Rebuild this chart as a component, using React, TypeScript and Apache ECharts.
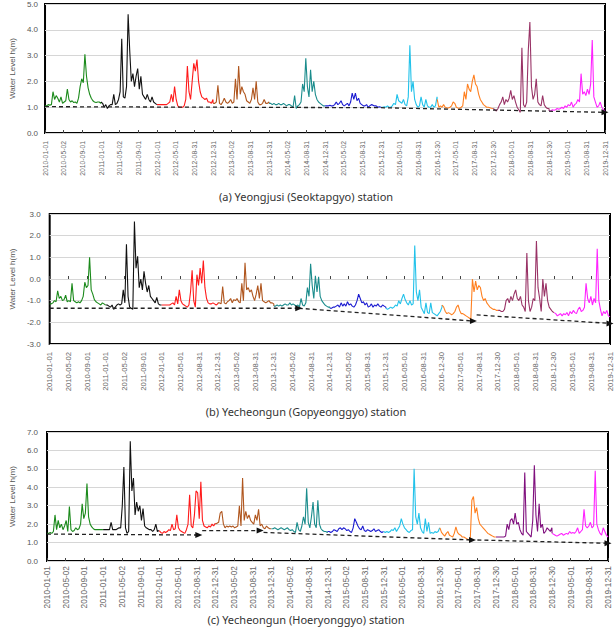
import React, { useEffect, useRef } from "react";
import * as echarts from "echarts";

// Tick labels on the shared date axis (31 evenly spaced ticks, 2010-01-01 .. 2019-12-31)
const tickLabels = [
  "2010-01-01", "2010-05-02", "2010-09-01", "2011-01-01", "2011-05-02", "2011-09-01",
  "2012-01-01", "2012-05-01", "2012-08-31", "2012-12-31", "2013-05-02", "2013-08-31",
  "2013-12-31", "2014-05-02", "2014-08-31", "2014-12-31", "2015-05-02", "2015-08-31",
  "2015-12-31", "2016-05-01", "2016-08-31", "2016-12-30", "2017-05-01", "2017-08-31",
  "2017-12-30", "2018-05-01", "2018-08-31", "2018-12-30", "2019-05-01", "2019-08-31",
  "2019-12-31",
];

const years = [2010, 2011, 2012, 2013, 2014, 2015, 2016, 2017, 2018, 2019];

const yearColorsAB = ["#1b8a1b", "#111111", "#ff1a1a", "#b0561e", "#1a8c8c", "#1a1ad0", "#22c2ea", "#ff8020", "#993366", "#ff22ff"];
const yearColorsC = ["#1b8a1b", "#111111", "#ff1a1a", "#b0561e", "#1a8c8c", "#1a1ad0", "#22c2ea", "#ff8020", "#80107e", "#ff22ff"];

// (a) Yeongjusi (Seoktapgyo) — water level h(m), roughly every 10 days per year
const seoktapgyo2010 = [1.05,1.05,1.1,1.08,1.1,1.6,1.3,1.45,1.35,1.2,1.4,1.15,1.2,1.25,1.7,1.3,1.2,1.25,1.18,1.2,1.15,1.35,1.8,2.1,1.95,3.05,2.2,1.75,1.5,1.35,1.25,1.2,1.18,1.2,1.2,1.15];
const seoktapgyo2011 = [1.2,1.15,1.0,1.1,0.95,1.05,1.1,1.1,1.5,1.1,1.15,1.3,1.6,3.65,1.4,1.35,1.8,4.6,3.2,2.0,2.3,1.8,2.2,2.5,1.7,2.2,1.5,1.4,1.3,1.5,1.3,1.2,1.4,1.2,1.15,1.1];
const seoktapgyo2012 = [1.1,1.1,1.1,1.1,1.1,1.1,1.1,1.15,1.2,1.5,1.2,1.8,1.3,1.05,1.0,1.0,1.0,1.05,1.3,2.6,1.6,1.3,2.0,2.7,2.4,2.85,2.0,1.6,1.4,1.35,1.3,1.35,1.2,1.2,1.15,1.3];
const seoktapgyo2013 = [1.15,1.15,1.2,1.85,1.15,1.1,1.2,1.35,1.2,1.15,1.2,1.3,1.15,1.2,2.1,1.3,2.6,1.5,1.8,1.6,1.5,1.25,1.2,1.15,1.3,1.75,1.3,2.0,1.2,1.1,1.1,1.15,1.3,1.15,1.15,1.2];
const seoktapgyo2014 = [1.15,1.15,1.1,1.15,1.1,1.1,1.15,1.1,1.1,1.15,1.1,1.05,1.1,1.1,1.05,1.0,1.45,0.95,1.05,1.1,1.2,1.9,1.6,2.9,1.8,1.4,2.45,1.6,2.0,1.5,1.3,1.2,1.15,1.1,1.05,1.05];
const seoktapgyo2015 = [1.05,1.05,1.05,1.08,1.05,1.05,1.1,1.2,1.1,1.15,1.25,1.1,1.05,1.1,1.15,1.05,1.2,1.55,1.3,1.55,1.25,1.35,1.15,1.1,1.05,1.05,1.1,1.0,1.05,1.1,1.08,1.05,1.05,1.0,1.02,1.0];
const seoktapgyo2016 = [1.0,1.0,1.02,1.0,1.05,1.0,1.0,1.05,1.15,1.1,1.5,1.25,1.2,1.15,1.3,1.1,1.05,1.4,3.4,1.6,2.0,1.3,1.1,1.0,1.05,1.4,1.1,1.0,1.3,1.05,1.0,1.0,1.1,1.0,1.05,1.4];
const seoktapgyo2017 = [1.3,1.0,1.05,1.0,1.1,1.0,0.98,0.97,1.0,1.05,1.2,1.15,1.0,0.97,0.96,1.0,1.05,1.6,1.3,1.9,1.7,1.6,2.0,2.25,1.9,1.8,1.5,1.3,1.2,1.1,1.05,1.0,1.0,0.98,0.96,0.95];
const seoktapgyo2018 = [0.95,0.9,0.85,0.95,1.1,1.2,1.4,1.1,1.3,1.2,1.35,1.65,1.3,1.45,1.2,1.0,0.9,0.8,3.3,1.1,1.0,1.2,3.2,4.3,1.8,1.3,1.5,2.1,1.2,1.1,1.05,1.45,1.1,1.0,0.95,0.95];
const seoktapgyo2019 = [0.85,0.85,0.9,0.88,0.9,0.95,0.92,0.95,1.0,0.95,1.05,1.0,1.1,1.05,1.2,1.0,1.1,1.15,1.3,1.2,2.3,1.5,1.6,1.45,1.7,1.5,1.9,3.6,1.4,1.2,1.0,1.05,1.2,1.0,0.9,0.85];

// (b) Yecheongun (Gopyeonggyo)
const gopyeonggyo2010 = [-1.15,-1.15,-1.1,-1.0,-1.05,-0.55,-0.9,-0.8,-1.0,-0.95,-0.75,-1.05,-1.0,-1.05,-0.2,-1.0,-1.05,-1.1,-1.05,-1.1,-1.0,-0.8,-0.15,-0.4,-0.3,1.0,-0.5,-0.7,-0.95,-1.05,-1.1,-1.15,-1.2,-1.1,-1.15,-1.2];
const gopyeonggyo2011 = [-1.2,-1.2,-1.25,-1.3,-1.2,-1.4,-1.3,-1.2,-1.15,-1.2,-1.15,-0.5,-1.1,1.6,-0.8,-1.3,-1.35,-1.4,2.65,0.5,1.05,-0.4,0.0,-0.5,0.35,-0.2,-0.6,-0.3,-0.8,-0.9,-1.0,-1.1,-0.85,-1.15,-1.2,-1.2];
const gopyeonggyo2012 = [-1.2,-1.2,-1.2,-1.2,-1.2,-1.2,-1.15,-1.1,-1.2,-0.8,-1.15,-0.5,-1.0,-1.15,-1.2,-1.25,-1.3,-1.2,-0.6,0.4,-1.0,-1.3,0.2,-0.3,0.5,-0.2,0.85,-0.4,-0.9,-1.1,-1.15,-1.15,-1.1,-1.15,-1.2,-1.15];
const gopyeonggyo2013 = [-1.1,-1.1,-1.15,-0.35,-1.1,-1.15,-1.05,-1.0,-0.9,-1.1,-0.95,-1.0,-0.9,-1.05,-1.1,-0.2,-1.0,0.75,-0.5,-0.4,-0.6,-0.5,-0.8,-1.0,-0.7,-0.3,-0.9,-0.2,-1.0,-1.05,-1.1,-1.05,-1.0,-1.1,-1.1,-1.15];
const gopyeonggyo2014 = [-1.25,-1.25,-1.2,-1.25,-1.2,-1.25,-1.2,-1.15,-1.2,-1.2,-1.1,-1.2,-1.15,-1.2,-1.25,-1.2,-1.3,-0.9,-1.2,-1.25,-1.1,-0.4,-0.8,0.7,-0.3,-0.9,0.15,-0.6,0.1,-0.8,-1.0,-1.1,-1.2,-1.25,-1.3,-1.3];
const gopyeonggyo2015 = [-1.35,-1.35,-1.3,-1.3,-1.25,-1.2,-1.3,-1.1,-1.25,-1.15,-1.25,-1.05,-1.2,-1.15,-1.25,-1.3,-1.2,-1.0,-0.7,-0.9,-1.1,-1.05,-1.2,-1.1,-1.3,-1.25,-1.15,-1.3,-1.2,-1.25,-1.15,-1.25,-1.3,-1.2,-1.25,-1.3];
const gopyeonggyo2016 = [-1.35,-1.4,-1.35,-1.3,-1.35,-1.3,-1.2,-1.25,-1.0,-1.15,-0.9,-0.7,-0.95,-1.1,-1.2,-1.0,-1.2,-1.15,1.55,-0.6,-1.0,-0.5,-1.3,-1.45,-1.6,-1.1,-1.55,-1.6,-1.1,-1.55,-1.6,-1.65,-1.7,-1.6,-1.5,-1.3];
const gopyeonggyo2017 = [-1.2,-1.3,-1.5,-1.6,-1.55,-1.6,-1.65,-1.6,-1.5,-1.3,-1.2,-1.45,-1.6,-1.6,-1.65,-1.7,-1.75,-1.8,-1.85,0.0,-0.6,-0.1,-0.5,-0.3,-0.4,-0.8,-1.0,-0.9,-1.1,-1.2,-1.3,-1.35,-1.4,-1.4,-1.45,-1.45];
const gopyeonggyo2018 = [-1.45,-1.45,-1.5,-1.5,-1.4,-1.0,-0.9,-1.1,-0.8,-1.0,-0.7,-0.5,-0.9,-1.0,-0.8,-1.2,-1.3,-1.5,1.2,-1.0,-1.5,-1.3,-0.9,-1.0,1.75,-0.4,-0.9,-1.5,0.0,-0.8,-0.2,-1.0,-1.3,-1.4,-1.5,-1.55];
const gopyeonggyo2019 = [-1.55,-1.6,-1.7,-1.65,-1.6,-1.7,-1.6,-1.65,-1.55,-1.7,-1.5,-1.6,-1.45,-1.55,-1.6,-1.4,-1.3,-1.5,-1.45,-1.3,-0.2,-0.9,-1.1,-0.8,-1.2,-0.9,-1.1,1.4,-1.0,-1.4,-1.7,-1.5,-1.6,-1.45,-1.7,-1.75];

// (c) Yecheongun (Hoeryonggyo)
const hoeryonggyo2010 = [1.5,1.5,1.55,1.5,1.6,2.5,1.7,2.2,1.8,2.0,1.7,1.9,2.2,1.6,2.95,1.7,1.6,1.65,1.8,1.7,1.75,2.0,3.1,2.3,2.6,4.2,2.4,2.0,1.85,1.75,1.7,1.7,1.7,1.7,1.7,1.7];
const hoeryonggyo2011 = [1.7,1.7,1.7,1.7,1.7,2.1,1.7,1.7,1.7,1.75,1.8,1.8,3.0,5.1,1.8,1.5,1.6,6.5,3.8,4.5,2.5,3.2,2.7,3.0,2.2,2.85,1.9,1.8,1.75,1.7,1.7,1.6,1.7,2.0,1.6,1.65];
const hoeryonggyo2012 = [1.65,1.55,1.5,1.6,1.55,1.6,1.7,1.65,2.0,1.7,1.75,2.5,1.8,1.65,1.6,1.55,1.5,1.7,2.0,3.6,1.9,1.8,2.5,3.8,3.7,2.3,4.3,2.2,1.9,1.85,1.8,1.9,1.85,2.0,1.9,2.05];
const hoeryonggyo2013 = [2.0,2.05,2.1,2.6,2.7,2.0,1.8,1.9,1.85,1.9,1.85,1.9,1.8,1.85,1.9,3.0,1.9,4.5,2.2,2.7,2.3,2.5,2.2,2.1,2.0,2.5,2.2,2.8,1.9,2.0,1.8,1.75,1.9,1.8,1.75,1.75];
const hoeryonggyo2014 = [1.75,1.75,1.8,1.75,1.7,1.75,1.8,1.75,1.7,1.75,1.8,1.7,1.65,1.7,1.6,1.55,2.1,1.7,1.6,1.9,2.4,2.0,3.95,2.1,1.8,2.4,3.2,2.0,1.8,3.3,2.0,1.75,1.65,1.6,1.6,1.55];
const hoeryonggyo2015 = [1.6,1.6,1.55,1.6,1.7,1.65,1.6,1.75,1.8,1.7,1.8,1.75,1.65,1.7,1.6,1.55,1.8,2.3,2.1,1.9,1.75,1.7,1.9,1.65,1.6,1.7,1.65,1.6,1.65,1.75,1.6,1.65,1.7,1.6,1.55,1.6];
const hoeryonggyo2016 = [1.6,1.55,1.6,1.55,1.6,1.7,1.65,1.8,1.6,1.75,1.9,2.3,2.0,1.8,1.7,1.6,1.55,1.65,1.7,5.0,2.4,2.0,2.6,1.8,1.6,1.5,2.3,1.6,2.1,1.5,1.55,1.5,1.6,1.55,1.6,1.8];
const hoeryonggyo2017 = [1.8,1.55,1.45,1.35,1.5,1.6,1.4,1.35,1.3,1.5,1.85,1.55,1.45,1.4,1.3,1.3,1.25,1.2,1.15,1.2,3.3,3.5,2.6,2.9,2.3,2.0,1.9,1.8,1.7,1.6,1.5,1.45,1.4,1.35,1.3,1.3];
const hoeryonggyo2018 = [1.3,1.3,1.3,1.3,1.3,1.3,1.35,2.0,1.7,2.2,2.3,2.0,2.6,2.0,2.1,1.7,1.5,1.4,4.8,1.6,1.5,1.4,1.3,2.2,5.2,2.5,1.6,3.1,1.8,2.0,1.5,1.6,1.8,1.7,1.6,1.8];
const hoeryonggyo2019 = [1.5,1.45,1.4,1.35,1.4,1.45,1.5,1.4,1.45,1.5,1.45,1.6,1.5,1.55,1.5,1.6,1.8,1.5,1.6,1.7,2.8,1.9,1.8,1.9,2.1,1.8,1.9,4.9,2.0,1.7,1.5,1.4,1.8,1.6,1.4,1.3];

// Dashed trend segments: [date, level], an arrow head at each segment's last point
const trendSeoktapgyo: [string, number][][] = [
  [["2010-01-01", 1.02], ["2015-12-31", 0.98], ["2019-12-31", 0.8]],
];
const trendGopyeonggyo: [string, number][][] = [
  [["2010-01-01", -1.35], ["2014-06-12", -1.35]],
  [["2014-06-12", -1.35], ["2017-07-24", -1.94]],
  [["2017-08-14", -1.66], ["2019-12-31", -2.05]],
];
const trendHoeryonggyo: [string, number][][] = [
  [["2010-01-01", 1.46], ["2012-09-15", 1.41]],
  [["2012-10-07", 1.65], ["2013-10-19", 1.65]],
  [["2013-11-10", 1.55], ["2017-08-01", 1.14]],
  [["2017-09-02", 1.14], ["2019-12-31", 0.96]],
];

const captions = [
  "(a) Yeongjusi (Seoktapgyo) station",
  "(b) Yecheongun (Gopyeonggyo) station",
  "(c) Yecheongun (Hoeryonggyo) station",
];

const DAY_MS = 86400000;
const ORIGIN = Date.UTC(2010, 0, 1);
const SPAN_DAYS = (Date.UTC(2019, 11, 31) - ORIGIN) / DAY_MS;
const TICKS = tickLabels.length - 1;

const dayOf = (s: string) => {
  const [y, m, d] = s.split("-").map(Number);
  return (Date.UTC(y, m - 1, d) - ORIGIN) / DAY_MS;
};
// axis units: one unit per tick step
const toAxis = (day: number) => (day * TICKS) / SPAN_DAYS;

const LABEL_FONT = "Arial, 'Liberation Sans', sans-serif";

type Panel = {
  byYear: number[][];
  colors: string[];
  trend: [string, number][][];
  yMin: number;
  yMax: number;
  grid: { left: number; top: number; width: number; height: number };
  xFont: number;
  xMargin: number;
  yMargin: number;
  nameGap: number;
};

const panels: Panel[] = [
  {
    byYear: [seoktapgyo2010, seoktapgyo2011, seoktapgyo2012, seoktapgyo2013, seoktapgyo2014, seoktapgyo2015, seoktapgyo2016, seoktapgyo2017, seoktapgyo2018, seoktapgyo2019],
    colors: yearColorsAB,
    trend: trendSeoktapgyo,
    yMin: 0, yMax: 5,
    grid: { left: 39, top: 1, width: 566, height: 132 },
    xFont: 6.8, xMargin: 8, yMargin: 7, nameGap: 28,
  },
  {
    byYear: [gopyeonggyo2010, gopyeonggyo2011, gopyeonggyo2012, gopyeonggyo2013, gopyeonggyo2014, gopyeonggyo2015, gopyeonggyo2016, gopyeonggyo2017, gopyeonggyo2018, gopyeonggyo2019],
    colors: yearColorsAB,
    trend: trendGopyeonggyo,
    yMin: -3, yMax: 3,
    grid: { left: 43, top: 214, width: 567, height: 130 },
    xFont: 7.7, xMargin: 8, yMargin: 9, nameGap: 31,
  },
  {
    byYear: [hoeryonggyo2010, hoeryonggyo2011, hoeryonggyo2012, hoeryonggyo2013, hoeryonggyo2014, hoeryonggyo2015, hoeryonggyo2016, hoeryonggyo2017, hoeryonggyo2018, hoeryonggyo2019],
    colors: yearColorsC,
    trend: trendHoeryonggyo,
    yMin: 0, yMax: 7,
    grid: { left: 44, top: 432, width: 564, height: 129 },
    xFont: 8.3, xMargin: 5, yMargin: 9, nameGap: 31,
  },
];

const captionY = [196, 411, 619];

function buildOption() {
  const grids: any[] = [];
  const xAxes: any[] = [];
  const yAxes: any[] = [];
  const series: any[] = [];

  panels.forEach((p, k) => {
    grids.push({ ...p.grid, show: true, borderColor: "#000", borderWidth: 2, backgroundColor: "#fff", z: 0 });
    xAxes.push({
      type: "value",
      gridIndex: k,
      min: 0,
      max: TICKS,
      interval: 1,
      axisLine: { show: false },
      axisTick: { show: true, inside: true, length: 3, lineStyle: { color: "#444", width: 1 } },
      splitLine: { show: false },
      axisLabel: {
        rotate: 90,
        fontSize: p.xFont,
        color: "#666",
        margin: p.xMargin,
        fontFamily: LABEL_FONT,
        formatter: (v: number) => tickLabels[Math.round(v)] ?? "",
      },
    });
    yAxes.push({
      type: "value",
      gridIndex: k,
      min: p.yMin,
      max: p.yMax,
      interval: 1,
      name: "Water Level h(m)",
      nameLocation: "middle",
      nameGap: p.nameGap,
      nameTextStyle: { fontSize: 8, color: "#555", fontFamily: LABEL_FONT },
      axisLine: { show: false },
      axisTick: { show: false },
      splitLine: { show: true, lineStyle: { color: "#d6d6d6", width: 1 } },
      axisLabel: {
        fontSize: 8,
        color: "#555",
        margin: p.yMargin,
        fontFamily: LABEL_FONT,
        formatter: (v: number) => v.toFixed(1),
      },
    });

    p.byYear.forEach((vals, yi) => {
      const year = years[yi];
      const start = dayOf(`${year}-01-01`);
      const end = dayOf(`${year}-12-31`);
      const pts: number[][] = vals.map((v, i) => [toAxis(start + (i * (end - start)) / (vals.length - 1)), v]);
      const next = p.byYear[yi + 1];
      if (next) pts.push([toAxis(dayOf(`${year + 1}-01-01`)), next[0]]);
      series.push({
        type: "line",
        xAxisIndex: k,
        yAxisIndex: k,
        data: pts,
        symbol: "none",
        silent: true,
        z: 2,
        lineStyle: { color: p.colors[yi], width: 1.1 },
        itemStyle: { color: p.colors[yi] },
      });
    });

    p.trend.forEach((seg) => {
      series.push({
        type: "line",
        xAxisIndex: k,
        yAxisIndex: k,
        silent: true,
        z: 5,
        showSymbol: true,
        symbol: "none",
        lineStyle: { color: "#222", width: 1.3, type: [4, 3] },
        itemStyle: { color: "#111" },
        data: seg.map(([d, v], i) =>
          i === seg.length - 1
            ? { value: [toAxis(dayOf(d)), v], symbol: "triangle", symbolSize: [6, 7], symbolRotate: -90 }
            : { value: [toAxis(dayOf(d)), v], symbol: "none" }
        ),
      });
    });
  });

  return {
    animation: false,
    backgroundColor: "#fff",
    textStyle: { fontFamily: LABEL_FONT },
    grid: grids,
    xAxis: xAxes,
    yAxis: yAxes,
    series,
    graphic: captions.map((t, i) => ({
      type: "text",
      x: 306,
      y: captionY[i],
      style: {
        text: t,
        fontSize: 11,
        fontFamily: "Noto Sans",
        fill: "#333",
        textAlign: "center",
        textVerticalAlign: "middle",
      },
    })),
  };
}

export default function App() {
  const ref = useRef<HTMLDivElement>(null);
  useEffect(() => {
    if (!ref.current) return;
    const chart = echarts.init(ref.current, undefined, { renderer: "svg" });
    chart.setOption(buildOption());
    return () => chart.dispose();
  }, []);
  return (
    <div
      ref={ref}
      style={{ position: "absolute", left: 0, top: 0, width: 615, height: 627, background: "#fff" }}
    />
  );
}
